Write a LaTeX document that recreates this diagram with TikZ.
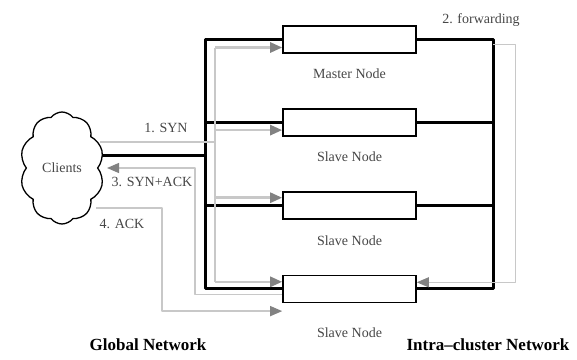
\documentclass[tikz,border=0pt]{standalone}
\usepackage{fontspec}
\setmainfont{Liberation Serif}
\usetikzlibrary{shapes, arrows.meta, positioning, calc, backgrounds}
\definecolor{linegray}{RGB}{200, 200, 200}
\definecolor{tipgray}{RGB}{130, 130, 130}
\definecolor{textgray}{RGB}{70, 70, 70}

\begin{document}
\begin{tikzpicture}[x=1pt, y=-1pt,
		nodebox/.style={draw, line width=1.6pt, fill=white, minimum width=133pt, minimum height=27pt, inner sep=0pt},
		bus/.style={line width=3pt, line join=round},
		syn/.style={linegray, line width=2.6pt, line join=round},
		reply/.style={linegray, line width=1.3pt, line join=round},
		tip/.style={-{Triangle[length=12pt, width=10pt, color=tipgray]}},
		lbl/.style={font=\fontsize{14}{16}\selectfont, text=textgray, inner sep=1pt},
		title/.style={font=\fontsize{17}{19}\selectfont\bfseries}
	]
	\useasboundingbox (0,0) rectangle (577,359);

	% Nodes
	\node[nodebox] (master) at (349.5,39.5) {};
	\node[nodebox, below=54.5pt of master] (slave1) {};
	\node[nodebox, below=54.5pt of slave1] (slave2) {};
	\node[nodebox, below=54.5pt of slave2] (slave3) {};

	\node[cloud, draw, line width=1.3pt, fill=white, cloud puffs=10, cloud puff arc=105, aspect=0.72, minimum width=84pt, minimum height=112pt, inner sep=0pt, font=\fontsize{14}{16}\selectfont, text=textgray] (clients) at (62,168) {Clients};

	% Bus positions
	\coordinate (lb) at (205,0);
	\coordinate (gb) at (215,0);
	\coordinate (ra) at (195,0);
	\coordinate (ak) at (162,0);
	\coordinate (rb) at (493,0);
	\coordinate (fb) at (515,0);
	\coordinate (syn0) at ($(clients.center)+(38,-26)$);
	\coordinate (blk0) at ($(clients.center)+(38,-13)$);
	\coordinate (sa0) at ($(clients.center)+(45,0)$);
	\coordinate (ack0) at ($(clients.center)+(34,40)$);

	% Arrows
	\begin{scope}[on background layer]
		\draw[bus] (master.west) -| (lb |- slave3.west) -- (slave3.west);
		\draw[bus] (master.east) -| (rb |- slave3.east) -- (slave3.east);
		\foreach \n in {slave1, slave2} {
			\draw[bus] (lb |- \n.west) -- (\n.west);
			\draw[bus] (rb |- \n.east) -- (\n.east);
		}
		\draw[bus] (blk0) -- (lb |- blk0);

		\draw[syn] (syn0) -- (gb |- syn0);
		\draw[syn] ($(gb |- master.west)+(0,8)$) -- ($(gb |- slave3.west)+(0,-7)$);
		\foreach \n/\d in {master/8, slave1/7.5, slave2/-8, slave3/-7} {
			\draw[syn, tip] ($(gb |- \n.west)+(0,\d)$) -- ($(\n.west)+(0,\d)$);
		}

		\draw[reply, tip] ($(slave3.west)+(0,6)$) -| (ra |- sa0) -- (sa0);
		\draw[reply, tip] (ack0) -| ($(ak |- slave3.south west)+(0,8)$) -- ($(slave3.south west)+(0,8)$);
		\draw[reply, line width=1pt, tip] ($(rb |- master.east)+(0,4.5)$) -| ($(fb |- slave3.east)+(0,-6.5)$) -- ($(slave3.east)+(0,-6.5)$);
	\end{scope}

	% Labels
	\node[lbl, below=14pt of master] {Master Node};
	\node[lbl, below=14pt of slave1] {Slave Node};
	\node[lbl, below=15pt of slave2] {Slave Node};
	\node[lbl, below=23pt of slave3] {Slave Node};

	\node[lbl] (l1) at (166,128) {1. SYN};
	\node[lbl] (l2) at (481,20) {2. forwarding};
	\node[lbl] (l3) at (152,182) {3. SYN+ACK};
	\node[lbl] (l4) at (122,224) {4. ACK};

	\node[title] (global) at (148,345) {Global Network};
	\node[title] (intra) at (488,345) {Intra--cluster Network};

\end{tikzpicture}
\end{document}
